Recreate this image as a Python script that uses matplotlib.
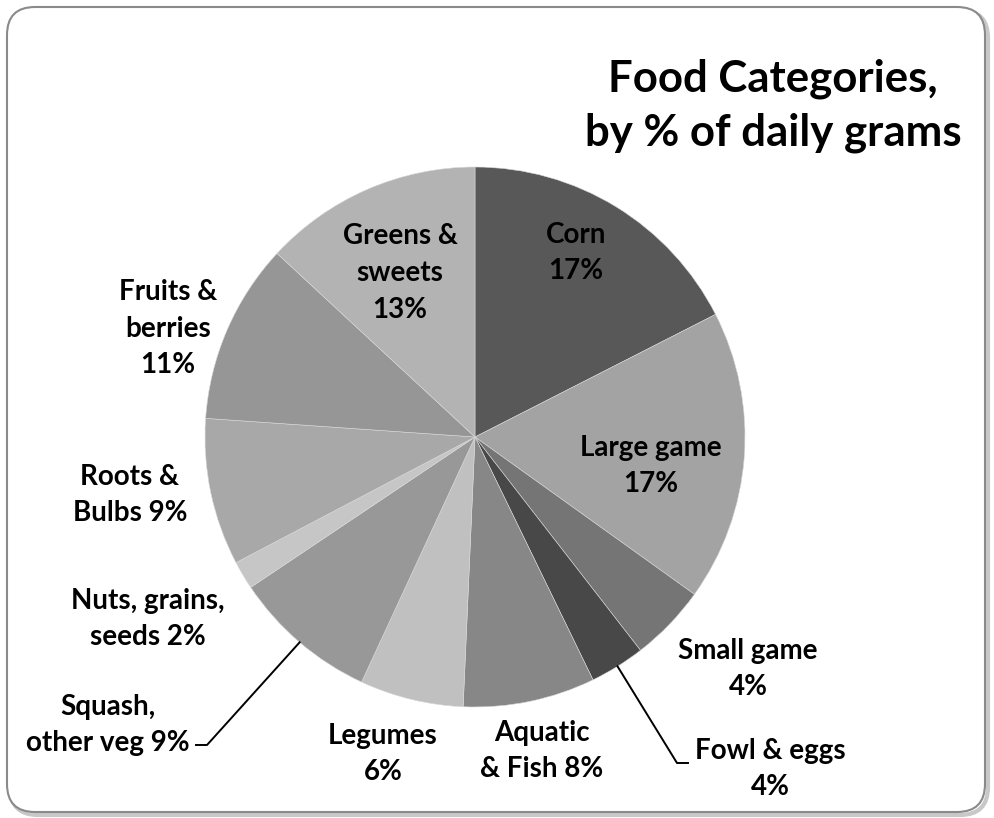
import numpy as np
import matplotlib
matplotlib.use("Agg")
import matplotlib.pyplot as plt
from matplotlib.patches import FancyBboxPatch

# slice data, clockwise from 12 o'clock (percent of daily grams)
names = ["Corn", "Large game", "Small game", "Fowl & eggs", "Aquatic\n& Fish",
         "Legumes", "Squash,\nother veg", "Nuts, grains,\nseeds", "Roots &\nBulbs",
         "Fruits &\nberries", "Greens &\nsweets"]
values = [17.5, 17.4, 4.6, 3.3, 7.9, 6.2, 8.7, 1.7, 8.8, 10.8, 13.1]
pct_labels = ["17%", "17%", "4%", "4%", "8%", "6%", "9%", "2%", "9%", "11%", "13%"]
greys = ["#585858", "#a3a3a3", "#757575", "#484848", "#878787", "#c0c0c0",
         "#989898", "#c6c6c6", "#a8a8a8", "#969696", "#b3b3b3"]

W, H = 995, 818
CX, CY, R = 475, H - 437, 270

# label placement (pixel centre, top-down y) and how the percent joins the name
label_pos = [(576, 253), (651, 466), (748, 669), (770, 769), (542, 751),
             (383, 754), (108, 725), (148, 619), (130, 495), (168, 329), (400, 273)]
joiner = ["\n", "\n", "\n", "\n", " ", "\n", " ", " ", " ", "\n", "\n"]
leaders = {3: (688, 763), 6: (196, 745)}

plt.rcParams['font.family'] = ['Lato', 'DejaVu Sans']

fig = plt.figure(figsize=(W / 100, H / 100), dpi=100)
ax = fig.add_axes([0, 0, 1, 1])

wedges, _ = ax.pie(values, colors=greys, startangle=90, counterclock=False,
                   radius=R, center=(CX, CY),
                   wedgeprops=dict(edgecolor="#d8d8d8", linewidth=0.4))

ax.set_xlim(0, W)
ax.set_ylim(0, H)
ax.set_aspect("equal")
ax.axis("off")

# slide frame with soft shadow
shadow = FancyBboxPatch((10, 3), W - 17, H - 13, boxstyle="round,pad=0,rounding_size=28",
                        facecolor="none", edgecolor="#c8c8c8", linewidth=3, zorder=0)
frame = FancyBboxPatch((7, 6), W - 17, H - 13, boxstyle="round,pad=0,rounding_size=28",
                       facecolor="white", edgecolor="#8a8a8a", linewidth=1.5, zorder=0)
ax.add_patch(shadow)
ax.add_patch(frame)

ax.text(773, H - 106, "Food Categories,\nby % of daily grams", ha="center", va="center",
        fontsize=31.5, fontweight="bold", linespacing=1.4)

for i, w in enumerate(wedges):
    x, y = label_pos[i]
    ax.text(x, H - y, names[i] + joiner[i] + pct_labels[i], ha="center", va="center",
            fontsize=20, fontweight="bold", linespacing=1.5)
    if i in leaders:
        mid = np.deg2rad((w.theta1 + w.theta2) / 2)
        sx, sy = CX + R * np.cos(mid), CY + R * np.sin(mid)
        ex, ey = leaders[i]
        ey = H - ey
        if ex > sx:
            ax.plot([sx, ex - 11, ex], [sy, ey, ey], color="black", lw=1.4)
        else:
            ax.plot([sx, ex + 11, ex], [sy, ey, ey], color="black", lw=1.4)

fig.savefig("out.png", dpi=100)
